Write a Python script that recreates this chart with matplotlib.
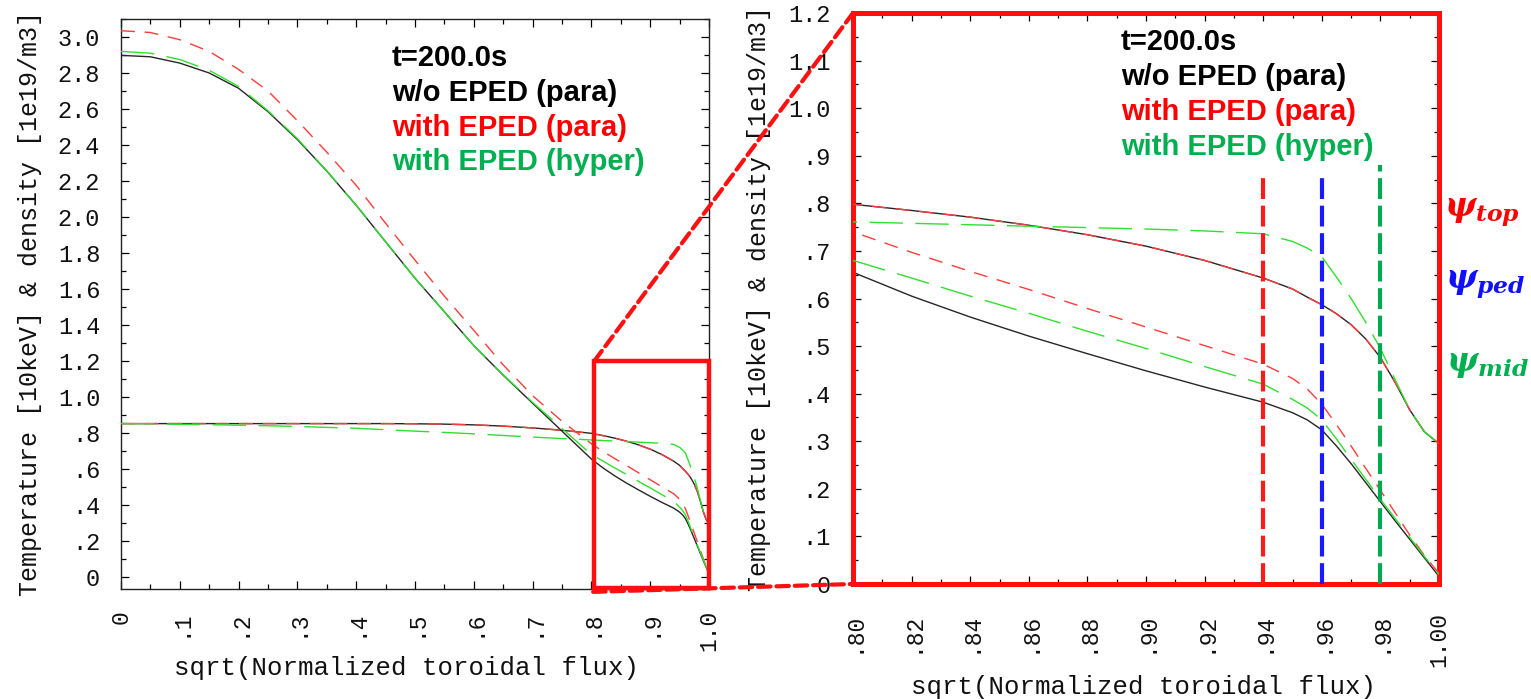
import matplotlib
matplotlib.use("Agg")
import matplotlib.pyplot as plt
from matplotlib.patches import Rectangle, ConnectionPatch
from matplotlib.ticker import MultipleLocator

# ---------------- data ----------------
rho = [0.0, 0.05, 0.1, 0.15, 0.2, 0.25, 0.3, 0.35, 0.4, 0.45, 0.5, 0.55, 0.6,
       0.65, 0.7, 0.75, 0.8, 0.82, 0.84, 0.86, 0.88, 0.9, 0.92, 0.94, 0.95,
       0.955, 0.96, 0.965, 0.97, 0.975, 0.98, 0.985, 0.99, 0.995, 1.0]

# temperature [10keV]
te_wo_eped = [2.898, 2.89, 2.855, 2.80, 2.715, 2.585, 2.43, 2.255, 2.065, 1.862,
              1.66, 1.473, 1.285, 1.121, 0.965, 0.81, 0.655, 0.605, 0.561, 0.521,
              0.484, 0.448, 0.414, 0.382, 0.360, 0.345, 0.324, 0.29, 0.253, 0.213,
              0.173, 0.133, 0.094, 0.055, 0.016]
te_eped_para = [3.035, 3.025, 2.985, 2.92, 2.82, 2.70, 2.535, 2.36, 2.176, 1.965,
                1.76, 1.56, 1.37, 1.178, 1.007, 0.865, 0.74, 0.697, 0.657, 0.619,
                0.579, 0.54, 0.501, 0.462, 0.432, 0.41, 0.378, 0.335, 0.29, 0.243,
                0.197, 0.15, 0.103, 0.06, 0.022]
te_eped_hyper = [2.92, 2.91, 2.875, 2.815, 2.725, 2.59, 2.435, 2.256, 2.065, 1.862,
                 1.66, 1.473, 1.286, 1.123, 0.97, 0.825, 0.68, 0.643, 0.605, 0.569,
                 0.531, 0.495, 0.457, 0.42, 0.388, 0.37, 0.345, 0.305, 0.262, 0.22,
                 0.178, 0.138, 0.098, 0.058, 0.02]

# density [1e19/m3]
ne_wo_eped = [0.852, 0.852, 0.852, 0.852, 0.852, 0.852, 0.852, 0.852, 0.852, 0.852,
              0.851, 0.849, 0.845, 0.838, 0.828, 0.815, 0.798, 0.785, 0.771, 0.754,
              0.734, 0.71, 0.68, 0.643, 0.62, 0.603, 0.587, 0.568, 0.545, 0.515,
              0.476, 0.424, 0.366, 0.32, 0.295]
ne_eped_para = [0.852, 0.852, 0.852, 0.852, 0.852, 0.852, 0.852, 0.852, 0.852, 0.852,
                0.851, 0.849, 0.845, 0.838, 0.828, 0.815, 0.798, 0.785, 0.771, 0.754,
                0.734, 0.71, 0.68, 0.643, 0.62, 0.603, 0.587, 0.568, 0.545, 0.515,
                0.476, 0.424, 0.366, 0.32, 0.295]
ne_eped_hyper = [0.852, 0.851, 0.848, 0.846, 0.843, 0.84, 0.836, 0.831, 0.826, 0.818,
                 0.81, 0.803, 0.795, 0.786, 0.777, 0.769, 0.761, 0.758, 0.755, 0.752,
                 0.749, 0.746, 0.742, 0.736, 0.72, 0.706, 0.688, 0.645, 0.60, 0.55,
                 0.495, 0.43, 0.366, 0.32, 0.295]

# tick labels
left_xticks = [0.0, 0.1, 0.2, 0.3, 0.4, 0.5, 0.6, 0.7, 0.8, 0.9, 1.0]
left_xlabels = ["0", ".1", ".2", ".3", ".4", ".5", ".6", ".7", ".8", ".9", "1.0"]
left_yticks = [0.0, 0.2, 0.4, 0.6, 0.8, 1.0, 1.2, 1.4, 1.6, 1.8, 2.0, 2.2, 2.4,
               2.6, 2.8, 3.0]
left_ylabels = ["0", ".2", ".4", ".6", ".8", "1.0", "1.2", "1.4", "1.6", "1.8",
                "2.0", "2.2", "2.4", "2.6", "2.8", "3.0"]
right_xticks = [0.80, 0.82, 0.84, 0.86, 0.88, 0.90, 0.92, 0.94, 0.96, 0.98, 1.00]
right_xlabels = [".80", ".82", ".84", ".86", ".88", ".90", ".92", ".94", ".96",
                 ".98", "1.00"]
right_yticks = [0.0, 0.1, 0.2, 0.3, 0.4, 0.5, 0.6, 0.7, 0.8, 0.9, 1.0, 1.1, 1.2]
right_ylabels = ["0", ".1", ".2", ".3", ".4", ".5", ".6", ".7", ".8", ".9",
                 "1.0", "1.1", "1.2"]

legend_texts = ["t=200.0s", "w/o EPED (para)", "with EPED (para)",
                "with EPED (hyper)"]

# pedestal markers
psi_names = [r"$\psi_{top}$", r"$\psi_{ped}$", r"$\psi_{mid}$"]
psi_pos = [0.94, 0.96, 0.98]
psi_line_top = [0.855, 0.859, 0.88]

# zoom window
zoom_x = [0.805, 1.0]
zoom_y = [-0.06, 1.2]

# ---------------- style ----------------
plt.rcParams["mathtext.fontset"] = "custom"
plt.rcParams["mathtext.it"] = "DejaVu Serif:italic:bold"
plt.rcParams["mathtext.rm"] = "DejaVu Serif:bold"
plt.rcParams["mathtext.bf"] = "DejaVu Serif:italic:bold"

MONO = "Liberation Mono"
SANS = "Liberation Sans"
C_BLACK = "#262626"
C_RED = "#ff3b3b"
C_GREEN = "#2fe02f"
T_RED = "#ff0000"
T_GREEN = "#00b050"
BOX_RED = "#ff1010"
V_COLORS = ["#ff1a1a", "#1a1aff", "#00a84f"]
PSI_COLORS = ["#ff0000", "#1010ff", "#00b050"]
TXT_COLORS = ["black", "black", T_RED, T_GREEN]

W, H = 1531, 699
fig = plt.figure(figsize=(W / 100, H / 100), dpi=100)
ax1 = fig.add_axes([121 / W, 1 - 589 / H, 588 / W, 570 / H])
ax2 = fig.add_axes([853 / W, 1 - 584 / H, 586 / W, 571 / H])


def draw_curves(ax):
    ax.plot(rho, te_wo_eped, color=C_BLACK, lw=1.0, zorder=2)
    ax.plot(rho, ne_wo_eped, color=C_BLACK, lw=1.0, zorder=2)
    ax.plot(rho, te_eped_para, color=C_RED, lw=1.0, dashes=(10, 7), zorder=3)
    ax.plot(rho, ne_eped_para, color=C_RED, lw=1.0, dashes=(10, 7), zorder=3)
    ax.plot(rho, te_eped_hyper, color=C_GREEN, lw=1.0, dashes=(24, 9), zorder=4)
    ax.plot(rho, ne_eped_hyper, color=C_GREEN, lw=1.0, dashes=(24, 9), zorder=4)


def style_axis(ax, xt, xl, yt, yl, xminor, yminor, xpad, ypad):
    ax.set_xticks(xt, xl, rotation=90, fontfamily=MONO, fontsize=16.5)
    ax.set_yticks(yt, yl, fontfamily=MONO, fontsize=17)
    ax.xaxis.set_minor_locator(MultipleLocator(xminor))
    ax.yaxis.set_minor_locator(MultipleLocator(yminor))
    ax.tick_params(which="both", direction="in", top=True, right=True,
                   color="black", width=0.9)
    ax.tick_params(which="major", length=6)
    ax.tick_params(which="minor", length=3.8)
    ax.tick_params(axis="x", which="major", pad=xpad)
    ax.tick_params(axis="y", which="major", pad=ypad)
    for lab in ax.get_xticklabels() + ax.get_yticklabels():
        lab.set_color("#111111")
    ax.set_ylabel("Temperature [10keV] & density [1e19/m3]", fontfamily=MONO,
                  fontsize=18, va="center", color="#111111")
    ax.set_xlabel("sqrt(Normalized toroidal flux)", fontfamily=MONO,
                  fontsize=18.5, va="center", color="#111111")


# ---------------- left panel ----------------
draw_curves(ax1)
ax1.set_xlim(0, 1.0)
ax1.set_ylim(-0.067, 3.10)
style_axis(ax1, left_xticks, left_xlabels, left_yticks, left_ylabels,
           0.05, 0.1, 15, 15)
for s in ax1.spines.values():
    s.set_linewidth(1.0)
    s.set_color("#222222")
ax1.yaxis.set_label_coords(-0.155, 0.5)
ax1.xaxis.set_label_coords(0.485, -0.139)

ax1.add_patch(Rectangle((zoom_x[0], zoom_y[0]), zoom_x[1] - zoom_x[0],
                        zoom_y[1] - zoom_y[0], fill=False, ec=BOX_RED,
                        lw=3.2, clip_on=False, zorder=6))

# ---------------- right panel ----------------
draw_curves(ax2)
ax2.set_xlim(0.80, 1.00)
ax2.set_ylim(0.0, 1.2)
style_axis(ax2, right_xticks, right_xlabels, right_yticks, right_ylabels,
           0.01, 0.05, 20, 16)
for s in ax2.spines.values():
    s.set_linewidth(3.6)
    s.set_color(BOX_RED)
ax2.yaxis.set_label_coords(-0.160, 0.5)
ax2.xaxis.set_label_coords(0.495, -0.180)

for xp, yt, c in zip(psi_pos, psi_line_top, V_COLORS):
    ax2.plot([xp, xp], [0.0, yt], color=c, lw=3.0, dashes=(5, 1.6),
             zorder=7, solid_capstyle="butt", dash_capstyle="butt")

# legend-like text
for ax, x0, ys in [(ax1, 0.461, [0.932, 0.870, 0.809, 0.749]),
                   (ax2, 0.457, [0.949, 0.888, 0.827, 0.765])]:
    for txt, y, c in zip(legend_texts, ys, TXT_COLORS):
        ax.text(x0, y, txt, transform=ax.transAxes, ha="left", va="center",
                fontfamily=SANS, fontweight="bold", fontsize=21, color=c,
                zorder=8)

# psi labels
for name, c, (fx, fy) in zip(psi_names, PSI_COLORS,
                             [(1444, 212), (1445, 284), (1446, 364)]):
    fig.text(fx / W, 1 - fy / H, name, color=c, fontsize=24, ha="left",
             va="center")

# ---------------- zoom connectors ----------------
con_top = ConnectionPatch(xyA=(zoom_x[0], zoom_y[1]), coordsA=ax1.transData,
                          xyB=(0.80, 1.2), coordsB=ax2.transData,
                          color=BOX_RED, lw=3.0, linestyle=(0, (3, 1.4)),
                          zorder=9)
con_bot = ConnectionPatch(xyA=(zoom_x[0] - 0.002, -0.083), coordsA=ax1.transData,
                          xyB=(0.80, 0.0), coordsB=ax2.transData,
                          color=BOX_RED, lw=3.0, linestyle=(0, (3, 1.4)),
                          zorder=9)
fig.add_artist(con_top)
fig.add_artist(con_bot)

fig.savefig("out.png", dpi=100)
